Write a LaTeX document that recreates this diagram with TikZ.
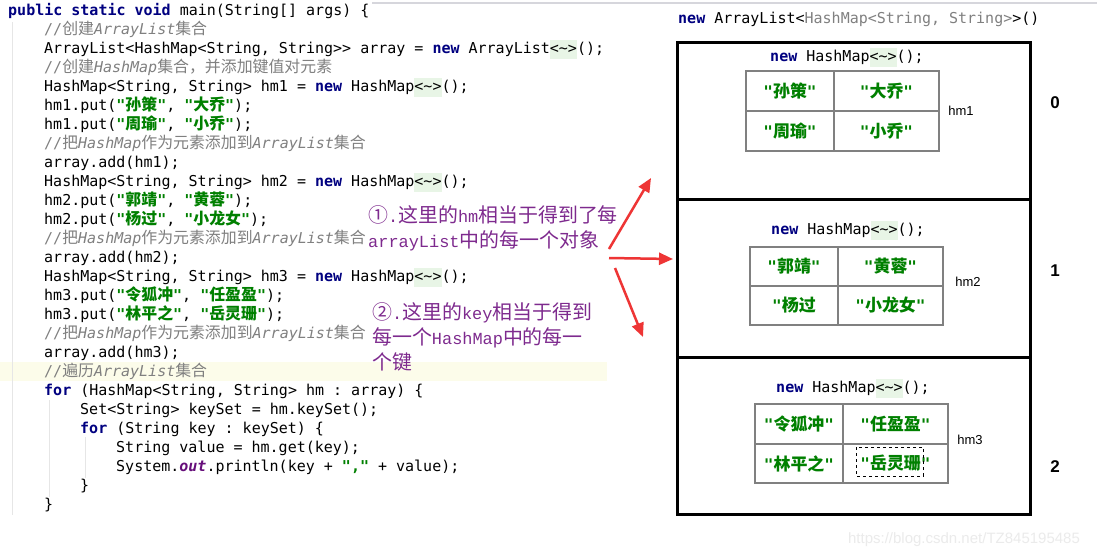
\documentclass[tikz,border=0pt]{standalone}
\usepackage{fontspec}
\setmonofont{DejaVu Sans Mono}
\newfontfamily\cnfont{Noto Sans CJK SC}[Scale=1.06]
\newfontfamily\notemono{Liberation Mono}[Scale=0.9]
\newfontfamily\labelfont{Liberation Sans}
\usetikzlibrary{arrows.meta, positioning}
\definecolor{kwblue}{HTML}{000080}
\definecolor{strgreen}{HTML}{008000}
\definecolor{cmtgray}{HTML}{808080}
\definecolor{fieldpurple}{HTML}{660E7A}
\definecolor{notepurple}{HTML}{7E2A8E}
\definecolor{diamondbg}{HTML}{E8F5E6}
\definecolor{caretline}{HTML}{FCFCEA}
\definecolor{guide}{HTML}{E6E6E6}
\definecolor{arrowred}{HTML}{EE3535}
\definecolor{cellgray}{HTML}{808080}
\definecolor{topline}{HTML}{D6D6DC}
\definecolor{wmark}{HTML}{EBEBEB}

\newcommand{\cn}[1]{{\cnfont #1}}
\newcommand{\jkw}[1]{{\color{kwblue}\bfseries #1}}
\newcommand{\jstr}[1]{{\color{strgreen}\bfseries "\cn{#1}"}}
\newcommand{\jcmt}[1]{{\color{cmtgray}#1}}
\newcommand{\diam}{{\setlength{\fboxsep}{0pt}\colorbox{diamondbg}{\strut<\textasciitilde>}}}

\begin{document}
\begin{tikzpicture}[x=1pt, y=-1pt, >={Triangle[length=14pt, width=12pt]},
  code/.style={anchor=base west, inner sep=0pt, font=\ttfamily\fontsize{15}{19}\selectfont},
  slot/.style={draw, line width=3pt, minimum width=353pt, minimum height=157.5pt, inner sep=0pt},
  cell/.style={draw=cellgray, line width=2.5pt, inner sep=0pt, text=strgreen,
    font=\ttfamily\bfseries\fontsize{16}{19}\selectfont},
  note/.style={anchor=north west, align=left, inner sep=0pt, text=notepurple,
    font=\fontsize{18.8}{25}\selectfont},
  redarrow/.style={draw=arrowred, line width=2.5pt, ->}]

% Background
\useasboundingbox (0,0) rectangle (1097,558);
\fill[white] (0,0) rectangle (1097,558);
\draw[topline, line width=2pt] (372,3) -- (1097,3);

% Editor gutter, caret line, indent guides
\fill[caretline] (0,362) rectangle (607,381);
\draw[guide, line width=1pt] (12,22) -- (12,515);
\draw[guide, line width=1pt] (49,400) -- (49,497);
\draw[guide, line width=1pt] (85,437) -- (85,478);

% Code listing
\node[code] (c1) at (8,15) {\jkw{public static void} main(String[] args) \{};
\node[code] (c2) at (44,34) {\jcmt{//\cn{创建}\textit{ArrayList}\cn{集合}}};
\node[code] (c3) at (44,53) {ArrayList<HashMap<String, String>> array = \jkw{new} ArrayList\diam();};
\node[code] (c4) at (44,72) {\jcmt{//\cn{创建}\textit{HashMap}\cn{集合，并添加键值对元素}}};
\node[code] (c5) at (44,91) {HashMap<String, String> hm1 = \jkw{new} HashMap\diam();};
\node[code] (c6) at (44,110) {hm1.put(\jstr{孙策}, \jstr{大乔});};
\node[code] (c7) at (44,129) {hm1.put(\jstr{周瑜}, \jstr{小乔});};
\node[code] (c8) at (44,148) {\jcmt{//\cn{把}\textit{HashMap}\cn{作为元素添加到}\textit{ArrayList}\cn{集合}}};
\node[code] (c9) at (44,167) {array.add(hm1);};
\node[code] (c10) at (44,186) {HashMap<String, String> hm2 = \jkw{new} HashMap\diam();};
\node[code] (c11) at (44,205) {hm2.put(\jstr{郭靖}, \jstr{黄蓉});};
\node[code] (c12) at (44,224) {hm2.put(\jstr{杨过}, \jstr{小龙女});};
\node[code] (c13) at (44,243) {\jcmt{//\cn{把}\textit{HashMap}\cn{作为元素添加到}\textit{ArrayList}\cn{集合}}};
\node[code] (c14) at (44,262) {array.add(hm2);};
\node[code] (c15) at (44,281) {HashMap<String, String> hm3 = \jkw{new} HashMap\diam();};
\node[code] (c16) at (44,300) {hm3.put(\jstr{令狐冲}, \jstr{任盈盈});};
\node[code] (c17) at (44,319) {hm3.put(\jstr{林平之}, \jstr{岳灵珊});};
\node[code] (c18) at (44,338) {\jcmt{//\cn{把}\textit{HashMap}\cn{作为元素添加到}\textit{ArrayList}\cn{集合}}};
\node[code] (c19) at (44,357) {array.add(hm3);};
\node[code] (c20) at (44,376) {\jcmt{//\cn{遍历}\textit{ArrayList}\cn{集合}}};
\node[code] (c21) at (44,395) {\jkw{for} (HashMap<String, String> hm : array) \{};
\node[code] (c22) at (80,414) {Set<String> keySet = hm.keySet();};
\node[code] (c23) at (80,433) {\jkw{for} (String key : keySet) \{};
\node[code] (c24) at (116,452) {String value = hm.get(key);};
\node[code] (c25) at (116,471) {System.{\color{fieldpurple}\bfseries\itshape out}.println(key + {\color{strgreen}\bfseries ","} + value);};
\node[code] (c26) at (80,490) {\}};
\node[code] (c27) at (44,509) {\}};

% Notes
\node[note] (noteA) at (368,205) {\cn{①}\notemono{.}\cn{这里的}\notemono{hm}\cn{相当于得到了每}\\
  \notemono{arrayList}\cn{中的每一个对象}};
\node[note] (noteB) at (372,302) {\cn{②}\notemono{.}\cn{这里的}\notemono{key}\cn{相当于得到}\\
  \cn{每一个}\notemono{HashMap}\cn{中的每一}\\
  \cn{个键}};

% ArrayList title
\node[code] (title) at (678,23) {\jkw{new} ArrayList<{\color{cmtgray}HashMap<String, String>}>()};

% Slots of the list
\node[slot] (slot0) at (853.5,120.75) {};
\node[slot] (slot1) at (853.5,278.25) {};
\node[slot] (slot2) at (853.5,435.75) {};

% Slot 0
\node[code, anchor=base] (new0) at (847,61) {\jkw{new} HashMap\diam();};
\node[cell, minimum width=88pt, minimum height=40pt] (k01) at (790,91) {"\cn{孙策}"};
\node[cell, minimum width=105pt, minimum height=40pt] (v01) at (886.5,91) {"\cn{大乔}"};
\node[cell, minimum width=88pt, minimum height=40pt] (k02) at (790,131) {"\cn{周瑜}"};
\node[cell, minimum width=105pt, minimum height=40pt] (v02) at (886.5,131) {"\cn{小乔}"};
\node[font=\labelfont\fontsize{13}{15}\selectfont] (hm1) at (961,111) {hm1};
\node[font=\labelfont\bfseries\fontsize{17}{20}\selectfont] (idx0) at (1055,103) {0};

% Slot 1
\node[code, anchor=base] (new1) at (848,234) {\jkw{new} HashMap\diam();};
\node[cell, minimum width=88pt, minimum height=39pt] (k11) at (794,266.5) {"\cn{郭靖}"};
\node[cell, minimum width=105pt, minimum height=39pt] (v11) at (890.5,266.5) {"\cn{黄蓉}"};
\node[cell, minimum width=88pt, minimum height=39pt] (k12) at (794,305.5) {"\cn{杨过}};
\node[cell, minimum width=105pt, minimum height=39pt] (v12) at (890.5,305.5) {"\cn{小龙女}"};
\node[font=\labelfont\fontsize{13}{15}\selectfont] (hm2) at (968,282) {hm2};
\node[font=\labelfont\bfseries\fontsize{17}{20}\selectfont] (idx1) at (1055,271) {1};

% Slot 2
\node[code, anchor=base] (new2) at (853,392) {\jkw{new} HashMap\diam();};
\node[cell, minimum width=88pt, minimum height=40pt] (k21) at (799,424) {"\cn{令狐冲}"};
\node[cell, minimum width=105pt, minimum height=40pt] (v21) at (895.5,424) {"\cn{任盈盈}"};
\node[cell, minimum width=88pt, minimum height=39pt] (k22) at (799,463.5) {"\cn{林平之}"};
\node[cell, minimum width=105pt, minimum height=39pt] (v22) at (895.5,463.5) {"\cn{岳灵珊}"};
\draw[dashed, line width=0.8pt] (856,447) rectangle (923,476);
\node[font=\labelfont\fontsize{13}{15}\selectfont] (hm3) at (970,440) {hm3};
\node[font=\labelfont\bfseries\fontsize{17}{20}\selectfont] (idx2) at (1055,467) {2};

% Red arrows
\coordinate (tailA) at (609,249);
\coordinate (tipA) at (651,178);
\coordinate (tailB) at (609,258);
\coordinate (tipB) at (673,259);
\coordinate (tailC) at (615,268);
\coordinate (tipC) at (643,337);
\draw[redarrow] (tailA) -- (tipA);
\draw[redarrow] (tailB) -- (tipB);
\draw[redarrow] (tailC) -- (tipC);

% Watermark
\node[text=wmark, font=\labelfont\fontsize{15}{17}\selectfont] (wm) at (964,540) {https://blog.csdn.net/TZ845195485};

\end{tikzpicture}
\end{document}
